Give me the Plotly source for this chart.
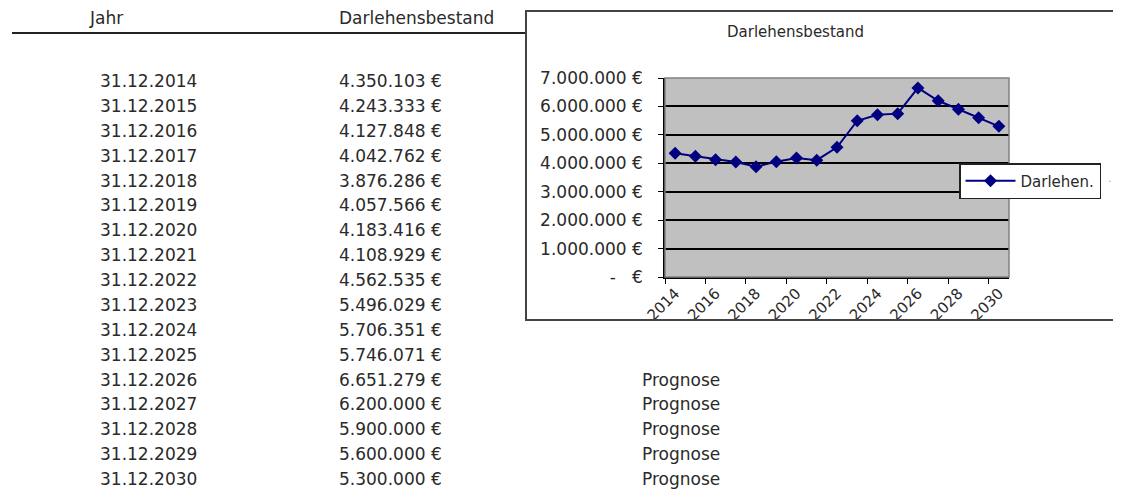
import plotly.graph_objects as go

# Daten aus der Tabelle
years = [2014, 2015, 2016, 2017, 2018, 2019, 2020, 2021, 2022,
         2023, 2024, 2025, 2026, 2027, 2028, 2029, 2030]
darlehensbestand = [4350103, 4243333, 4127848, 4042762, 3876286, 4057566,
                    4183416, 4108929, 4562535, 5496029, 5706351, 5746071,
                    6651279, 6200000, 5900000, 5600000, 5300000]
prognose = [False] * 12 + [True] * 5

y_ticks = [0, 1000000, 2000000, 3000000, 4000000, 5000000, 6000000, 7000000]
x_ticks = years[::2]

# the page has an 8px body margin, so the figure fills the rest of the window
OFF = 8
W, H = 1121 - OFF, 493 - OFF
FONT = "DejaVu Sans"
TXT = "#2a2a2a"


def px(x):
    return (x - OFF) / W


def py(y):
    return 1 - (y - OFF) / H


def euro(v):
    if v == 0:
        return "-   €"
    return f"{v:,.0f}".replace(",", ".") + " €"


fig = go.Figure()

fig.add_trace(go.Scatter(
    x=years,
    y=darlehensbestand,
    mode="lines+markers",
    name="Darlehen.",
    line=dict(color="#000080", width=2),
    marker=dict(symbol="diamond", size=10, color="#000080"),
))

# Tabelle links
annotations = []
annotations.append(dict(x=px(87), y=py(18), text="Jahr", xanchor="left", yanchor="middle"))
annotations.append(dict(x=px(337), y=py(18), text="Darlehensbestand", xanchor="left", yanchor="middle"))
row0, step = 81, (479 - 81) / 16
for i, (yr, v, p) in enumerate(zip(years, darlehensbestand, prognose)):
    yy = row0 + i * step
    annotations.append(dict(x=px(98), y=py(yy), text=f"31.12.{yr}", xanchor="left", yanchor="middle"))
    annotations.append(dict(x=px(337), y=py(yy), text=euro(v), xanchor="left", yanchor="middle"))
    if p:
        annotations.append(dict(x=px(640), y=py(yy), text="Prognose", xanchor="left", yanchor="middle"))

for a in annotations:
    a.update(xref="paper", yref="paper", showarrow=False, font=dict(family=FONT, size=17, color=TXT))

# Diagrammtitel
annotations.append(dict(x=px(795), y=py(32), text="Darlehensbestand", xanchor="center", yanchor="middle",
                        xref="paper", yref="paper", showarrow=False,
                        font=dict(family=FONT, size=15, color=TXT)))
annotations.append(dict(x=px(1106), y=py(178), text=". :", xanchor="left", yanchor="middle",
                        xref="paper", yref="paper", showarrow=False,
                        font=dict(family=FONT, size=11, color="#aaaaaa")))

shapes = [
    # Linie unter Tabellenkopf
    dict(type="line", xref="paper", yref="paper", x0=px(12), x1=px(526), y0=py(33), y1=py(33),
         line=dict(color="#222222", width=2)),
    # Diagrammrahmen
    dict(type="rect", xref="paper", yref="paper", x0=px(526), x1=px(1130), y0=py(320), y1=py(11),
         line=dict(color="#444444", width=2)),
    # Rahmen Zeichenfläche
    dict(type="rect", xref="paper", yref="paper", x0=px(665), x1=px(1009), y0=py(277), y1=py(78),
         line=dict(color="#808080", width=1.5)),
]

fig.update_layout(
    width=W, height=H, autosize=False,
    margin=dict(l=0, r=0, t=0, b=0, pad=0, autoexpand=False),
    paper_bgcolor="white",
    plot_bgcolor="#c0c0c0",
    annotations=annotations,
    shapes=shapes,
    showlegend=True,
    legend=dict(
        x=px(959), y=py(163), xanchor="left", yanchor="top",
        bgcolor="white", bordercolor="#222222", borderwidth=1.5,
        font=dict(family=FONT, size=15, color=TXT),
        itemwidth=50,
    ),
    xaxis=dict(
        domain=[px(665), px(1009)],
        range=[2013.5, 2030.5],
        tickvals=x_ticks,
        ticktext=[str(t) for t in x_ticks],
        tickangle=-45,
        ticks="",
        automargin=False,
        showgrid=False, zeroline=False,
        showline=True, linecolor="black", linewidth=1.5,
        tickfont=dict(family=FONT, size=15, color=TXT),
        minor=dict(tickvals=[t - 0.5 for t in x_ticks], ticks="outside", ticklen=5,
                   tickcolor="black", showgrid=False),
        fixedrange=True,
    ),
    yaxis=dict(
        domain=[py(277), py(78)],
        range=[0, 7000000],
        tickvals=y_ticks,
        ticktext=[euro(v) for v in y_ticks],
        ticks="outside", ticklen=5, tickcolor="black",
        ticklabelstandoff=12,
        automargin=False,
        showgrid=True, gridcolor="black", gridwidth=1.5,
        zeroline=False,
        showline=True, linecolor="black", linewidth=1.5,
        tickfont=dict(family=FONT, size=17, color=TXT),
        fixedrange=True,
    ),
)

fig.write_html("out.html")
